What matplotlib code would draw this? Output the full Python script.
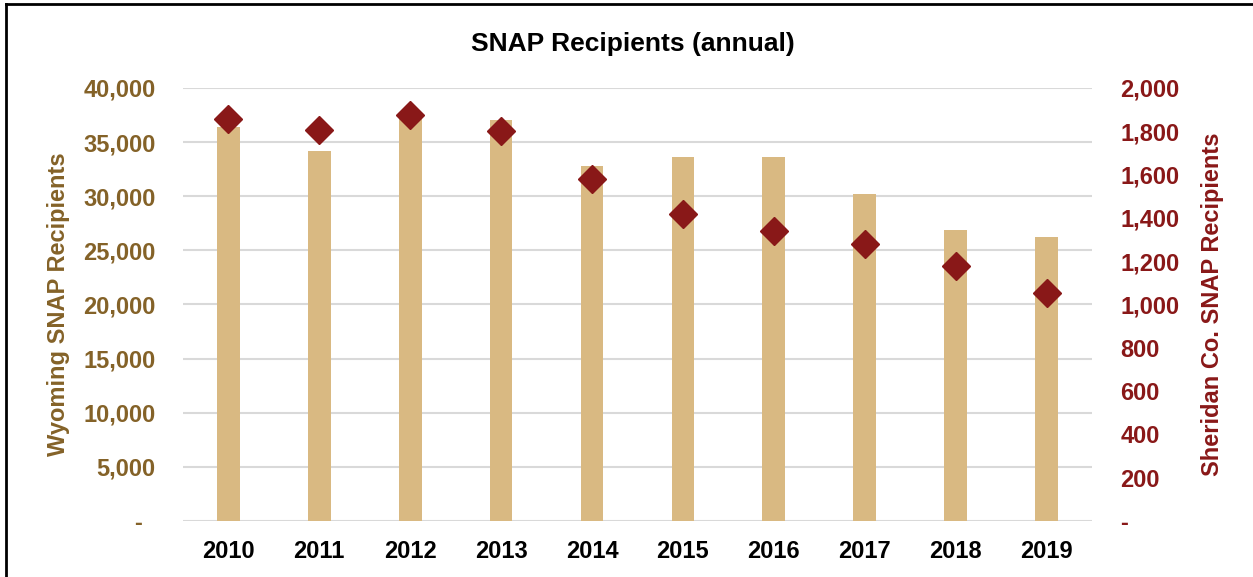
import matplotlib.pyplot as plt
from matplotlib.lines import Line2D
from matplotlib.ticker import FuncFormatter

years = ["2010", "2011", "2012", "2013", "2014", "2015", "2016", "2017", "2018", "2019"]
wyoming = [36400, 34200, 37700, 37000, 32800, 33600, 33600, 30200, 26850, 26250]
sheridan = [1855, 1805, 1875, 1803, 1580, 1419, 1341, 1278, 1176, 1052]

bar_color = "#D9B982"
dot_color = "#891818"
left_color = "#846228"

plt.rcParams['font.family'] = ['Liberation Sans', 'DejaVu Sans']
plt.rcParams['font.weight'] = 'bold'

fig = plt.figure(figsize=(12.53, 5.77), dpi=100)
ax = fig.add_axes([0.146, 0.0971, 0.7255, 0.7504])
ax2 = ax.twinx()

x = range(len(years))
ax.bar(x, wyoming, width=0.25, color=bar_color, zorder=2)
ax2.plot(x, sheridan, linestyle="none", marker="D", markersize=14, color=dot_color, zorder=3)

ax.set_xlim(-0.5, len(years) - 0.5)
ax.set_ylim(0, 40000)
ax2.set_ylim(0, 2000)
ax.set_yticks(range(0, 40001, 5000))
ax2.set_yticks(range(0, 2001, 200))


def fmt(v, pos, pad=""):
    if v == 0:
        return "-" + pad
    return f"{int(v):,}"


ax.yaxis.set_major_formatter(FuncFormatter(lambda v, p: fmt(v, p, "  ")))
ax2.yaxis.set_major_formatter(FuncFormatter(lambda v, p: fmt(v, p)))

ax.set_xticks(list(x))
ax.set_xticklabels(years)
ax.grid(axis="y", color="#D9D9D9", linewidth=1.5, zorder=0)
ax.set_axisbelow(True)

for a in (ax, ax2):
    for s in a.spines.values():
        s.set_visible(False)
ax.tick_params(axis="both", length=0)
ax2.tick_params(axis="both", length=0)
ax.tick_params(axis="x", labelsize=17, pad=14, labelcolor="black")
ax.tick_params(axis="y", labelsize=17, pad=19.5, labelcolor=left_color)
ax2.tick_params(axis="y", labelsize=17, pad=20.5, labelcolor=dot_color)

ax.set_ylabel("Wyoming SNAP Recipients", fontsize=17, fontweight="bold", color=left_color, labelpad=10)
ax2.set_ylabel("Sheridan Co. SNAP Recipients", fontsize=17, fontweight="bold", color=dot_color, labelpad=15.5)

fig.text(0.505, 0.924, "SNAP Recipients (annual)", fontsize=19, fontweight="bold", ha="center", va="center")

# chart frame (top and left edges visible)
fig.add_artist(Line2D([6 / 1253, 1], [1 - 4 / 577, 1 - 4 / 577], color="black", linewidth=2, transform=fig.transFigure))
fig.add_artist(Line2D([6 / 1253, 6 / 1253], [0, 1 - 4 / 577], color="black", linewidth=2, transform=fig.transFigure))

fig.savefig("out.png", dpi=100)
